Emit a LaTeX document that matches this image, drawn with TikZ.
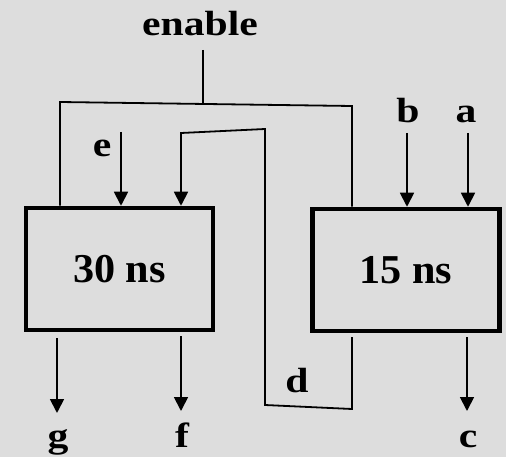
\documentclass[tikz,border=0pt]{standalone}
\usepackage{fontspec}
\setmainfont{Liberation Serif}
\usetikzlibrary{arrows.meta}
\definecolor{bg}{RGB}{221,221,221}
\newcommand{\wide}[1]{\scalebox{1.19}[1]{#1}}
\begin{document}
\begin{tikzpicture}[x=1pt,y=-1pt,
  box/.style={draw=black,line width=4.5pt,minimum width=187pt,minimum height=122pt,inner sep=0pt,font=\fontsize{41}{44}\selectfont\bfseries},
  lbl/.style={inner sep=0pt,anchor=base,font=\fontsize{35}{40}\selectfont\bfseries},
  wire/.style={line width=1.8pt},
  arr/.style={line width=1.8pt,-{Triangle[width=14pt,length=14pt]}}]
\fill[bg] (0,0) rectangle (506,457);
\useasboundingbox (0,0) rectangle (506,457);
% boxes
\node[box] (A) at (119.5,269) {\scalebox{1.03}[1]{30 ns}};
\node[box] (B) at (406,270) {\scalebox{1.03}[1]{15 ns}};
% labels
\node[lbl] (en) at (200,36) {\wide{enable}};
\node[lbl] (le) at (102,157) {\wide{e}};
\node[lbl] (lb) at (408,123) {\wide{b}};
\node[lbl] (la) at (466,123) {\wide{a}};
\node[lbl] (ld) at (297,392) {\wide{d}};
\node[lbl] (lg) at (58,447) {\wide{g}};
\node[lbl] (lf) at (182,447) {\wide{f}};
\node[lbl] (lc) at (468,447) {\wide{c}};
% enable bus
\coordinate (etop) at (203,50);
\coordinate (ebus) at (203,104);
\coordinate (xl) at (60,102);
\coordinate (xr) at (352,106);
\draw[wire] (etop) -- (ebus);
\draw[wire] (A.north -| xl) -- (xl) -- (xr) -- (B.north -| xr);
% inputs
\coordinate (es) at (121,132);
\coordinate (bs) at (407,133);
\coordinate (as) at (468,133);
\draw[arr] (es) -- (A.north -| es);
\draw[arr] (bs) -- (B.north -| bs);
\draw[arr] (as) -- (B.north -| as);
% feedback d
\coordinate (d0) at (352,337);
\coordinate (d1) at (352,409);
\coordinate (d2) at (265,405);
\coordinate (d3) at (265,129);
\coordinate (d4) at (181,133);
\draw[arr] (d0) -- (d1) -- (d2) -- (d3) -- (d4) -- (A.north -| d4);
% outputs
\coordinate (gs) at (57,338);
\coordinate (ge) at (57,413);
\coordinate (fs) at (181,336);
\coordinate (fe) at (181,411);
\coordinate (cs) at (467,337);
\coordinate (ce) at (467,411);
\draw[arr] (gs) -- (ge);
\draw[arr] (fs) -- (fe);
\draw[arr] (cs) -- (ce);
\end{tikzpicture}
\end{document}
